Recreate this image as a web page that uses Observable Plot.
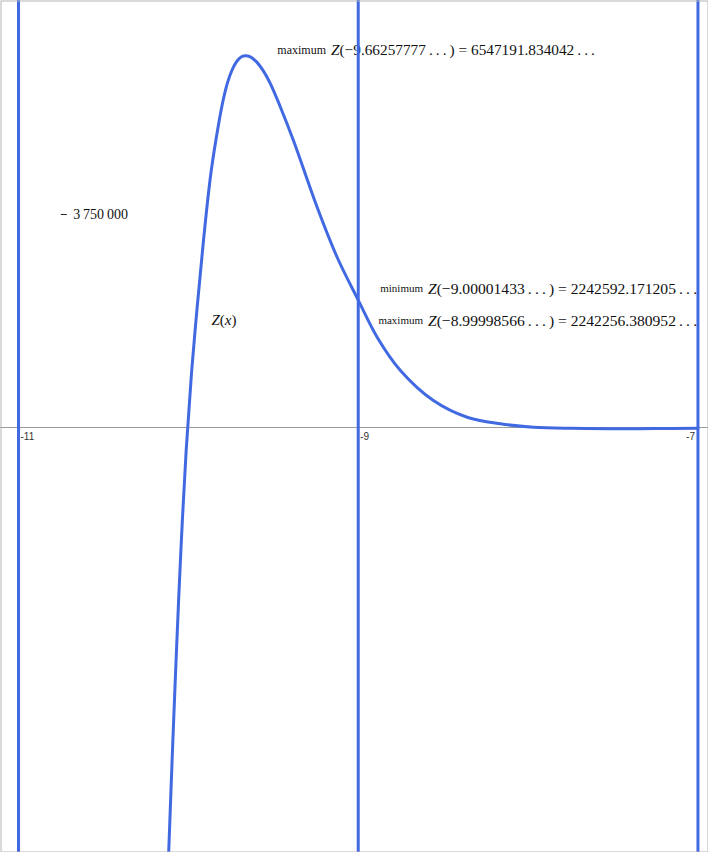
<!DOCTYPE html>
<html><head><meta charset="utf-8">
<script src="https://cdn.jsdelivr.net/npm/d3@7"></script>
<script src="https://cdn.jsdelivr.net/npm/@observablehq/plot@0.6"></script>
<style>body{margin:0;background:#fff} #chart svg{display:block}</style>
</head><body><div id="chart"></div>
<script>
// Z(x) (x, Z)
const curveX = [-10.1203, -10.1154, -10.0936, -10.0700, -10.0441, -10.0130, -9.9818, -9.9482, -9.9111, -9.8676, -9.8217, -9.7957, -9.7716, -9.7463, -9.7169, -9.6875, -9.6626, -9.6351, -9.5998, -9.5586, -9.5174, -9.4579, -9.3814, -9.2419, -9.1242, -9.0000, -8.8887, -8.7516, -8.5574, -8.3590, -8.1630, -7.9688, -7.75, -7.5, -7.25, -7.0];
const curveZ = [-7830000, -7447000, -5687000, -3926000, -2165000, -405000, 951000, 2118000, 3292000, 4472000, 5347000, 5757000, 6051000, 6268000, 6437000, 6528000, 6547191.834, 6526000, 6442000, 6278000, 6056000, 5639000, 5053000, 3878000, 2998000, 2242592.171, 1590000, 1004000, 475000, 181000, 65000, 5000, -15000, -20000, -18000, -12000];

const verticalLines = [-11, -9, -7];
const xTicks = [-11, -9, -7];
const xTickLabels = ["-11", "-9", "-7"];
const yTicks = [3750000];
const yTickLabels = ["3\u2009750\u2009000"];
const yAxisX = -10.748;

const annPrefix = ["maximum", "minimum", "maximum"];
const annFormula = [
  "Z(\u22129.66257777\u2009.\u2009.\u2009.\u2009) = 6547191.834042\u2009.\u2009.\u2009.",
  "Z(\u22129.00001433\u2009.\u2009.\u2009.\u2009) = 2242592.171205\u2009.\u2009.\u2009.",
  "Z(\u22128.99998566\u2009.\u2009.\u2009.\u2009) = 2242256.380952\u2009.\u2009.\u2009."
];
const annX = [-9.178, -8.607, -8.607];
const annY = [6637000, 2442000, 1884000];

const curveLabel = ["Z(x)"];
const curveLabelX = [-9.864];
const curveLabelY = [1884000];

const curve = curveX.map((x, i) => ({x, z: curveZ[i]}));
const ann = annPrefix.map((p, i) => ({p, f: annFormula[i], x: annX[i], y: annY[i]}));
const xt = xTicks.map((x, i) => ({x, label: xTickLabels[i]}));
const yt = yTicks.map((y, i) => ({y, label: yTickLabels[i]}));
const cl = curveLabel.map((t, i) => ({t, x: curveLabelX[i], y: curveLabelY[i]}));

const blue = "#4169e1";
const serif = "'Liberation Serif', 'DejaVu Serif', serif";
const sans = "'Liberation Sans', Arial, sans-serif";

const svg = Plot.plot({
  width: 708,
  height: 852,
  margin: 0,
  style: {background: "#fff", overflow: "visible"},
  x: {domain: [-11.106, -6.938], axis: null},
  y: {domain: [-7482000, 7518000], axis: null},
  marks: [
    Plot.ruleY([0], {stroke: "#9a9a9a", strokeWidth: 1}),
    Plot.ruleX(xt, {x: "x", y1: 0, y2: -130000, stroke: "#555", strokeWidth: 1}),
    Plot.text(xt.slice(0, 2), {x: "x", y: 0, text: "label", textAnchor: "start", lineAnchor: "top", dx: 2, dy: 5, fontSize: 10, fontFamily: sans, fill: "#333"}),
    Plot.text(xt.slice(2), {x: "x", y: 0, text: "label", textAnchor: "end", lineAnchor: "top", dx: -3, dy: 5, fontSize: 10, fontFamily: sans, fill: "#333"}),
    Plot.ruleY(yt, {y: "y", x1: yAxisX, x2: yAxisX, insetRight: -6, stroke: "#222", strokeWidth: 1}),
    Plot.text(yt, {x: yAxisX, y: "y", text: "label", textAnchor: "start", dx: 12, fontSize: 14, fontFamily: serif, fill: "#111"}),
    Plot.text(ann.slice(0, 1), {x: "x", y: "y", text: "p", textAnchor: "end", dx: -2, fontSize: 12, fontFamily: serif, fill: "#111"}),
    Plot.text(ann.slice(1), {x: "x", y: "y", text: "p", textAnchor: "end", dx: -2, fontSize: 11, fontFamily: serif, fill: "#111"}),
    Plot.text(ann.slice(0, 1), {x: "x", y: "y", text: "f", textAnchor: "start", dx: 3, fontSize: 15.3, fontFamily: serif, fill: "#111", className: "math"}),
    Plot.text(ann.slice(1), {x: "x", y: "y", text: "f", textAnchor: "start", dx: 3, fontSize: 15.6, fontFamily: serif, fill: "#111", className: "math"}),
    Plot.text(cl, {x: "x", y: "y", text: "t", textAnchor: "start", fontSize: 15, fontFamily: serif, fill: "#111", className: "math"}),
    Plot.line(curve, {x: "x", y: "z", curve: "catmull-rom", stroke: blue, strokeWidth: 3, clip: true}),
    Plot.ruleX(verticalLines, {stroke: blue, strokeWidth: 3}),
    Plot.frame({stroke: "#b5b5b5", strokeWidth: 1, inset: 0.5})
  ]
});

d3.select(svg).selectAll("g.math text").each(function () {
  const s = this.textContent;
  const sel = d3.select(this);
  sel.text(null);
  for (const p of s.split(/(Z|x)/)) {
    if (!p) continue;
    const t = sel.append("tspan").text(p);
    if (p === "Z" || p === "x") t.attr("font-style", "italic");
  }
});

document.getElementById("chart").append(svg);
</script>
</body></html>
